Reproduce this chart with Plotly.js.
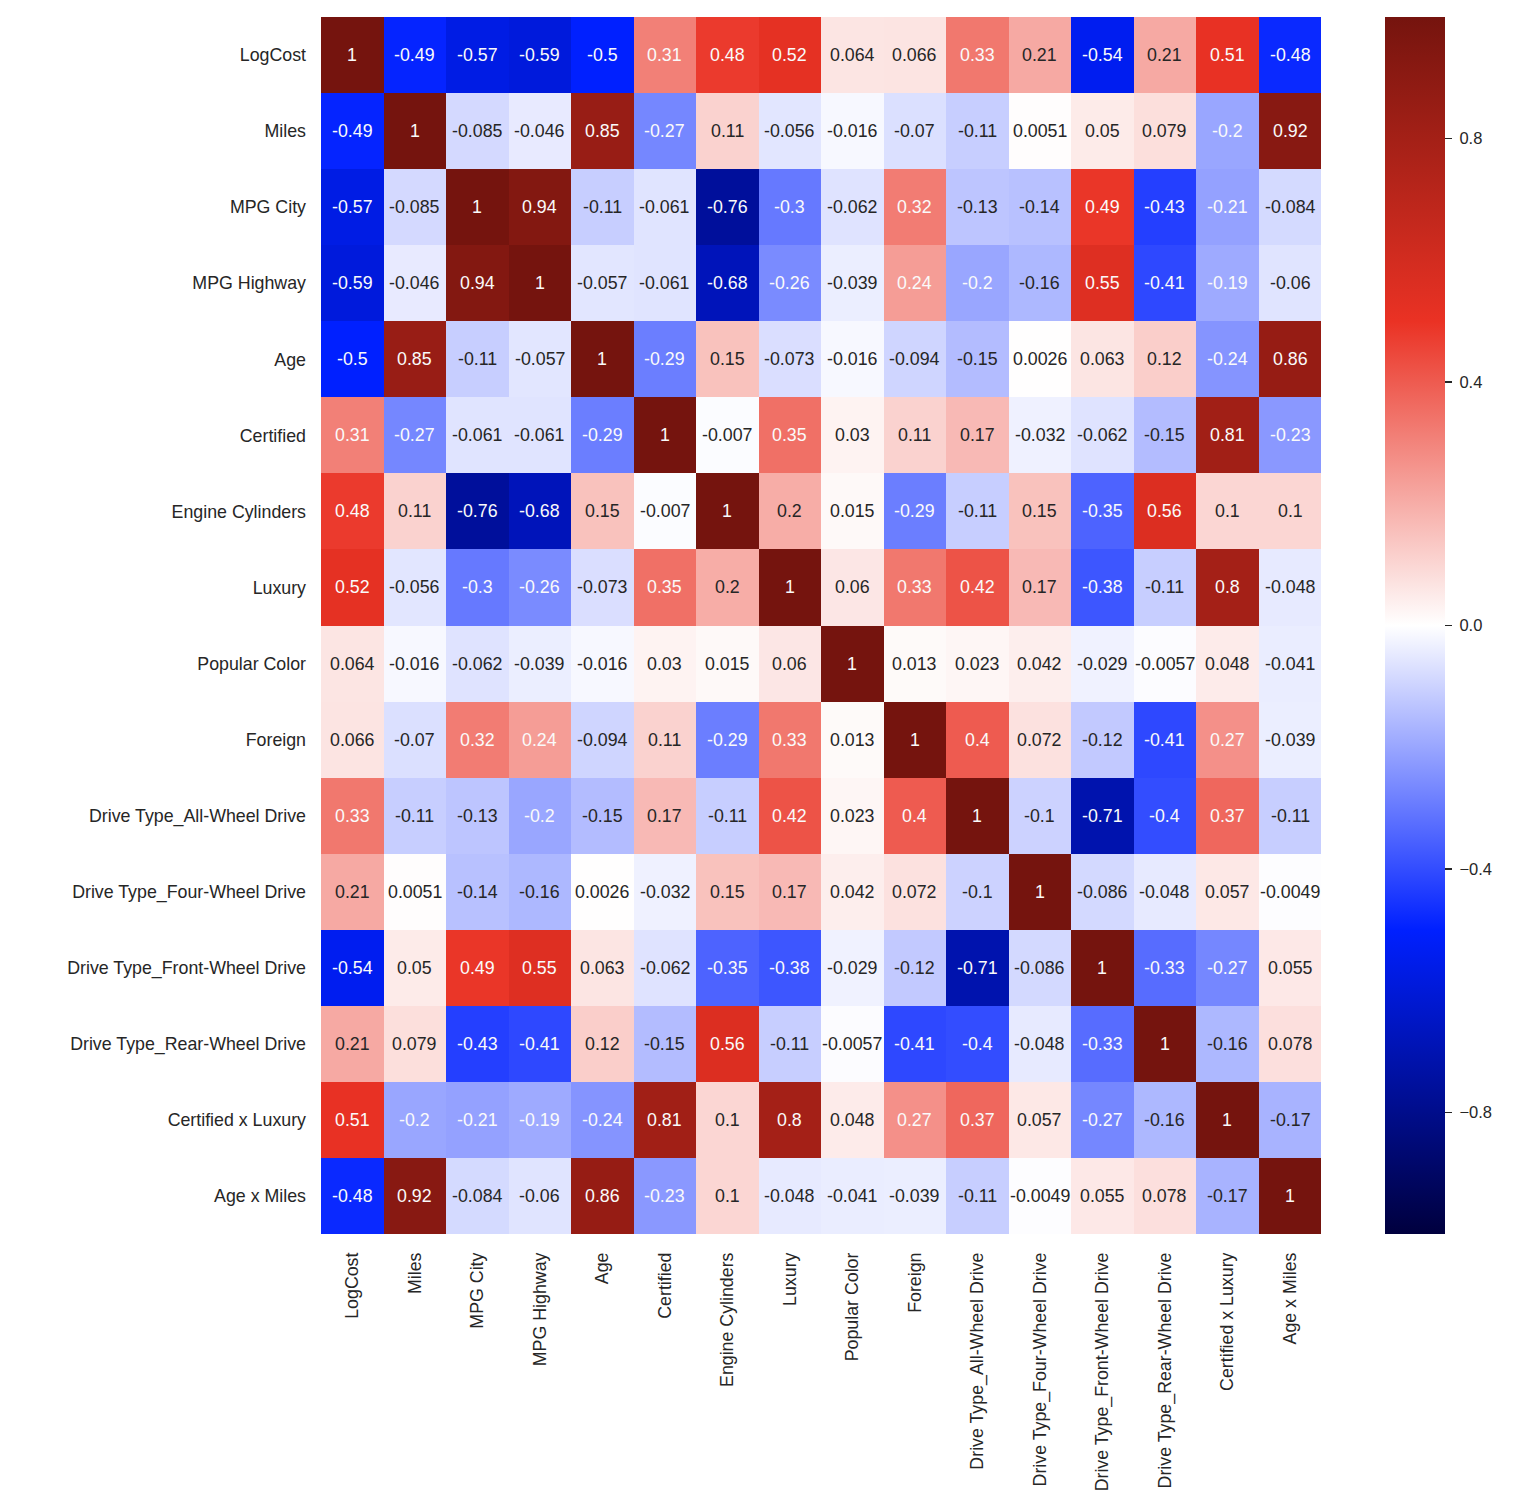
<!DOCTYPE html>
<html>
<head>
<meta charset="utf-8">
<script src="https://cdn.plot.ly/plotly-3.0.1.min.js"></script>
<style>
  html, body { margin: 0; padding: 0; background: #ffffff; }
  #chart { width: 1516px; height: 1500px; }
</style>
</head>
<body>
<div id="chart"></div>
<script>
const labels = [
  "LogCost", "Miles", "MPG City", "MPG Highway", "Age", "Certified",
  "Engine Cylinders", "Luxury", "Popular Color", "Foreign",
  "Drive Type_All-Wheel Drive", "Drive Type_Four-Wheel Drive",
  "Drive Type_Front-Wheel Drive", "Drive Type_Rear-Wheel Drive",
  "Certified x Luxury", "Age x Miles"
];

const rowLogCost   = [1, -0.49, -0.57, -0.59, -0.5, 0.31, 0.48, 0.52, 0.064, 0.066, 0.33, 0.21, -0.54, 0.21, 0.51, -0.48];
const rowMiles     = [-0.49, 1, -0.085, -0.046, 0.85, -0.27, 0.11, -0.056, -0.016, -0.07, -0.11, 0.0051, 0.05, 0.079, -0.2, 0.92];
const rowMpgCity   = [-0.57, -0.085, 1, 0.94, -0.11, -0.061, -0.76, -0.3, -0.062, 0.32, -0.13, -0.14, 0.49, -0.43, -0.21, -0.084];
const rowMpgHwy    = [-0.59, -0.046, 0.94, 1, -0.057, -0.061, -0.68, -0.26, -0.039, 0.24, -0.2, -0.16, 0.55, -0.41, -0.19, -0.06];
const rowAge       = [-0.5, 0.85, -0.11, -0.057, 1, -0.29, 0.15, -0.073, -0.016, -0.094, -0.15, 0.0026, 0.063, 0.12, -0.24, 0.86];
const rowCertified = [0.31, -0.27, -0.061, -0.061, -0.29, 1, -0.007, 0.35, 0.03, 0.11, 0.17, -0.032, -0.062, -0.15, 0.81, -0.23];
const rowCylinders = [0.48, 0.11, -0.76, -0.68, 0.15, -0.007, 1, 0.2, 0.015, -0.29, -0.11, 0.15, -0.35, 0.56, 0.1, 0.1];
const rowLuxury    = [0.52, -0.056, -0.3, -0.26, -0.073, 0.35, 0.2, 1, 0.06, 0.33, 0.42, 0.17, -0.38, -0.11, 0.8, -0.048];
const rowPopColor  = [0.064, -0.016, -0.062, -0.039, -0.016, 0.03, 0.015, 0.06, 1, 0.013, 0.023, 0.042, -0.029, -0.0057, 0.048, -0.041];
const rowForeign   = [0.066, -0.07, 0.32, 0.24, -0.094, 0.11, -0.29, 0.33, 0.013, 1, 0.4, 0.072, -0.12, -0.41, 0.27, -0.039];
const rowAWD       = [0.33, -0.11, -0.13, -0.2, -0.15, 0.17, -0.11, 0.42, 0.023, 0.4, 1, -0.1, -0.71, -0.4, 0.37, -0.11];
const row4WD       = [0.21, 0.0051, -0.14, -0.16, 0.0026, -0.032, 0.15, 0.17, 0.042, 0.072, -0.1, 1, -0.086, -0.048, 0.057, -0.0049];
const rowFWD       = [-0.54, 0.05, 0.49, 0.55, 0.063, -0.062, -0.35, -0.38, -0.029, -0.12, -0.71, -0.086, 1, -0.33, -0.27, 0.055];
const rowRWD       = [0.21, 0.079, -0.43, -0.41, 0.12, -0.15, 0.56, -0.11, -0.0057, -0.41, -0.4, -0.048, -0.33, 1, -0.16, 0.078];
const rowCertLux   = [0.51, -0.2, -0.21, -0.19, -0.24, 0.81, 0.1, 0.8, 0.048, 0.27, 0.37, 0.057, -0.27, -0.16, 1, -0.17];
const rowAgeMiles  = [-0.48, 0.92, -0.084, -0.06, 0.86, -0.23, 0.1, -0.048, -0.041, -0.039, -0.11, -0.0049, 0.055, 0.078, -0.17, 1];

const z = [rowLogCost, rowMiles, rowMpgCity, rowMpgHwy, rowAge, rowCertified,
           rowCylinders, rowLuxury, rowPopColor, rowForeign, rowAWD, row4WD,
           rowFWD, rowRWD, rowCertLux, rowAgeMiles];

const colorbarTicks = [-0.8, -0.4, 0.0, 0.4, 0.8];
const colorbarTickText = ["\u22120.8", "\u22120.4", "0.0", "0.4", "0.8"];

// seismic-like colorscale (as rendered in the reference)
const colorscale = [
  [0.0, "rgb(0,0,62)"],
  [0.25, "rgb(0,32,255)"],
  [0.5, "rgb(255,255,255)"],
  [0.75, "rgb(234,50,36)"],
  [1.0, "rgb(117,20,14)"]
];

// seaborn-like text colour choice (luminance of true seismic colour)
function lin(c) { return c <= 0.03928 ? c / 12.92 : Math.pow((c + 0.055) / 1.055, 2.4); }
function seismic(v) {
  const t = (v + 1) / 2;
  const stops = [[0, [0, 0, 0.3]], [0.25, [0, 0, 1]], [0.5, [1, 1, 1]], [0.75, [1, 0, 0]], [1, [0.5, 0, 0]]];
  for (let i = 0; i < stops.length - 1; i++) {
    const a = stops[i], b = stops[i + 1];
    if (t >= a[0] && t <= b[0]) {
      const f = (t - a[0]) / (b[0] - a[0]);
      return a[1].map((c, k) => c + f * (b[1][k] - c));
    }
  }
  return [0.5, 0, 0];
}
function textColor(v) {
  const c = seismic(v);
  const l = 0.2126 * lin(c[0]) + 0.7152 * lin(c[1]) + 0.0722 * lin(c[2]);
  return l > 0.408 ? "rgb(38,38,38)" : "rgb(250,250,250)";
}

const font = "Liberation Sans, Arial, Helvetica, sans-serif";
const annotations = [];
z.forEach((row, i) => {
  row.forEach((v, j) => {
    annotations.push({
      x: labels[j], y: labels[i], xref: "x", yref: "y",
      text: String(v), showarrow: false,
      font: { family: font, size: 17.8, color: textColor(v) }
    });
  });
});

const trace = {
  type: "heatmap",
  x: labels, y: labels, z: z,
  zmin: -1, zmax: 1,
  colorscale: colorscale,
  xgap: 0, ygap: 0,
  hoverinfo: "skip",
  colorbar: {
    x: 1 + (1385 - 1322) / 1001, xanchor: "left", xpad: 0,
    y: 0.5, yanchor: "middle", len: 1, lenmode: "fraction", ypad: 0,
    thickness: 60, thicknessmode: "pixels",
    outlinewidth: 0,
    tickmode: "array", tickvals: colorbarTicks,
    ticktext: colorbarTickText.map(s => "\u00a0" + s),
    ticks: "outside", ticklen: 7, tickwidth: 1.3, tickcolor: "rgb(38,38,38)",
    tickfont: { family: font, size: 16.5, color: "rgb(38,38,38)" }
  }
};

const layout = {
  width: 1516, height: 1500,
  margin: { l: 321, r: 194, t: 17, b: 266, pad: 0 },
  paper_bgcolor: "#ffffff", plot_bgcolor: "#ffffff",
  showlegend: false,
  xaxis: {
    type: "category", tickangle: -90, ticks: "", showgrid: false, zeroline: false,
    showline: false, ticklabelstandoff: 14,
    tickfont: { family: font, size: 17.8, color: "rgb(38,38,38)" }
  },
  yaxis: {
    type: "category", autorange: "reversed", ticks: "", showgrid: false, zeroline: false,
    showline: false, ticklabelstandoff: 14,
    tickfont: { family: font, size: 17.8, color: "rgb(38,38,38)" }
  },
  annotations: annotations
};

Plotly.newPlot("chart", [trace], layout, { displayModeBar: false, staticPlot: true });
</script>
</body>
</html>
